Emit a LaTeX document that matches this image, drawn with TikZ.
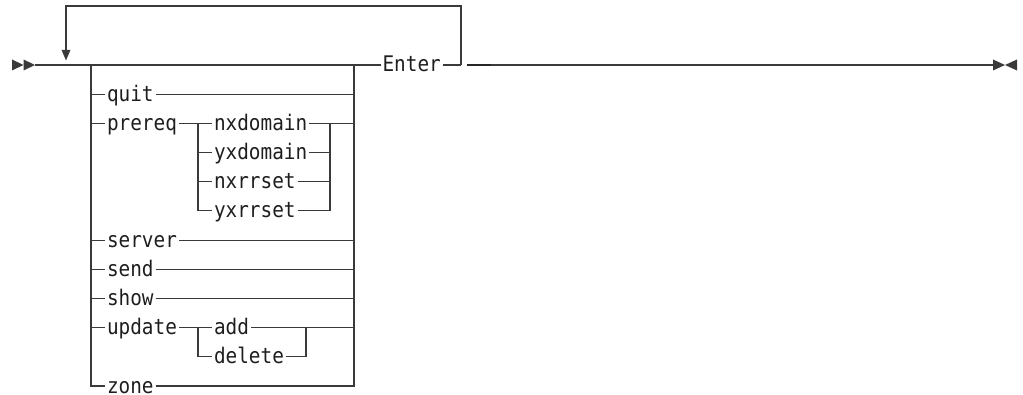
\documentclass[tikz,border=0pt]{standalone}
\usepackage{fontspec}
\newfontfamily\rr[FakeStretch=0.9]{DejaVu Sans Mono}
\definecolor{linec}{HTML}{3A3A3A}
\definecolor{txtc}{HTML}{1E1E1E}
\begin{document}
\begin{tikzpicture}[x=1pt,y=-1pt, line width=1.1pt, color=linec,
  lbl/.style={font=\fontsize{21.5pt}{21.5pt}\selectfont\rr, text=txtc, inner xsep=1.5pt, inner ysep=0pt,
    text height=14pt, text depth=0pt, anchor=west},
  tri/.style={fill=linec, draw=none},
  thick dash/.style={line width=1.7pt, draw=black!85}]
\useasboundingbox (0,0) rectangle (1023,395);
% labels
\node[lbl] (enter) at (380.5,65) {Enter};
\node[lbl] (quit) at (105,94.2) {quit};
\node[lbl] (prereq) at (105,123.4) {prereq};
\node[lbl] (nxdomain) at (212,123.4) {nxdomain};
\node[lbl] (yxdomain) at (212,152.5) {yxdomain};
\node[lbl] (nxrrset) at (212,181.7) {nxrrset};
\node[lbl] (yxrrset) at (212,210.9) {yxrrset};
\node[lbl] (server) at (105,240.1) {server};
\node[lbl] (send) at (105,269.3) {send};
\node[lbl] (show) at (105,298.4) {show};
\node[lbl] (update) at (105,327.6) {update};
\node[lbl] (add) at (212,327.6) {add};
\node[lbl] (delete) at (212,356.8) {delete};
\node[lbl] (zone) at (105,386) {zone};
% junction coordinates
\coordinate (s) at (35,65);
\coordinate (L0) at (91,65);
\coordinate (R0) at (354,65);
\coordinate (Lb) at (91,386);
\coordinate (Rb) at (354,386);
\coordinate (loopR) at (461,65);
\coordinate (loopTR) at (461,6);
\coordinate (loopTL) at (66,6);
\coordinate (loopB) at (66,51);
\coordinate (PL) at (198,123.4);
\coordinate (PR) at (330,123.4);
\coordinate (PLb) at (198,210.9);
\coordinate (PRb) at (330,210.9);
\coordinate (UL) at (198,327.6);
\coordinate (UR) at (306,327.6);
\coordinate (ULb) at (198,356.8);
\coordinate (URb) at (306,356.8);
\coordinate (d1) at (467,65);
\coordinate (d2) at (491,65);
\coordinate (e) at (993,65);
% start / end marks
\fill[tri] (12,59.5) -- (23.5,65) -- (12,70.5) -- cycle;
\fill[tri] (23.5,59.5) -- (35,65) -- (23.5,70.5) -- cycle;
\fill[tri] (993,59.5) -- (1005,65) -- (993,70.5) -- cycle;
\fill[tri] (1017,59.5) -- (1005,65) -- (1017,70.5) -- cycle;
% main line
\draw (s) -- (R0) -- (enter.west);
\draw (enter.east) -- (loopR);
% repeat loop
\draw (loopR) -- (loopTR) -- (loopTL) -- (loopB);
\fill[tri] (61.5,50) -- (70.5,50) -- (66,60.5) -- cycle;
% continuation
\draw[thick dash] (d1) -- (d2);
\draw (d2) -- (e);
% outer choice
\draw (L0) -- (Lb) -- (zone.west);
\draw (zone.east) -- (Rb) -- (R0);
\draw (L0 |- quit.west) -- (quit.west);
\draw (quit.east) -- (R0 |- quit.east);
\draw (L0 |- prereq.west) -- (prereq.west);
\draw (prereq.east) -- (nxdomain.west);
\draw (nxdomain.east) -- (R0 |- nxdomain.east);
\draw (L0 |- server.west) -- (server.west);
\draw (server.east) -- (R0 |- server.east);
\draw (L0 |- send.west) -- (send.west);
\draw (send.east) -- (R0 |- send.east);
\draw (L0 |- show.west) -- (show.west);
\draw (show.east) -- (R0 |- show.east);
\draw (L0 |- update.west) -- (update.west);
\draw (update.east) -- (add.west);
\draw (add.east) -- (R0 |- add.east);
% prereq choice
\draw (PL) -- (PLb) -- (yxrrset.west);
\draw (yxrrset.east) -- (PRb) -- (PR);
\draw (PL |- yxdomain.west) -- (yxdomain.west);
\draw (yxdomain.east) -- (PR |- yxdomain.east);
\draw (PL |- nxrrset.west) -- (nxrrset.west);
\draw (nxrrset.east) -- (PR |- nxrrset.east);
% update choice
\draw (UL) -- (ULb) -- (delete.west);
\draw (delete.east) -- (URb) -- (UR);
\end{tikzpicture}
\end{document}
